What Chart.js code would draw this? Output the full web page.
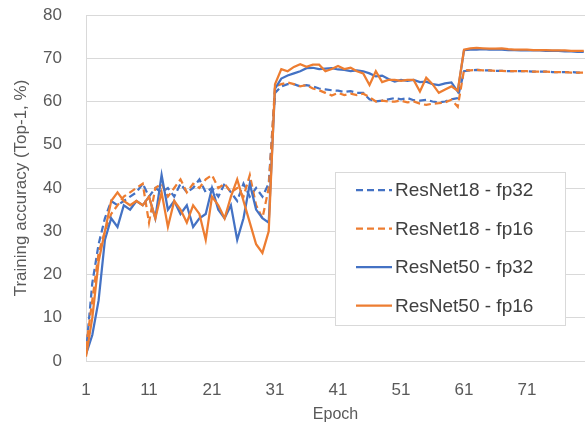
<!DOCTYPE html>
<html>
<head>
<meta charset="utf-8">
<script src="https://cdn.jsdelivr.net/npm/chart.js@4.4.0/dist/chart.umd.min.js"></script>
<style>
  html, body { margin: 0; padding: 0; background: #fff; }
  #wrap { width: 585px; height: 428px; }
</style>
</head>
<body>
<div id="wrap"><canvas id="accChart" width="585" height="428"></canvas></div>
<script>
// Epochs shown (1..80) and the labelled ticks
const epochs = [1,2,3,4,5,6,7,8,9,10,11,12,13,14,15,16,17,18,19,20,
    21,22,23,24,25,26,27,28,29,30,31,32,33,34,35,36,37,38,39,40,
    41,42,43,44,45,46,47,48,49,50,51,52,53,54,55,56,57,58,59,60,
    61,62,63,64,65,66,67,68,69,70,71,72,73,74,75,76,77,78,79,80];
const xTicks = [1, 11, 21, 31, 41, 51, 61, 71];
const yTicks = [0, 10, 20, 30, 40, 50, 60, 70, 80];

const resnet18Fp32 = [2,18,27,33,37,36,37,38,39,41,38,40,39,40,38,41,39,40,42,39,
    40,38,41,39,37,41,38,40,38,41,62,63.5,64,64,63.5,63.8,63.5,63,62.8,62.6,
    62.5,62.2,62.4,62,62,60.5,60,60.2,60.5,60.8,60.5,60.8,60.3,60.2,60.4,60,59.8,60,60.5,60.8,
    67,67.2,67.3,67.2,67.2,67.1,67.1,67,67,67,67,66.9,66.9,66.9,66.8,66.8,66.8,66.8,66.7,66.7];
const resnet18Fp16 = [3,14,25,30,34,36,38,39,40,41,32,40,41,38,40,42,39,41,40,42,
    43,40,41,39,40,38,43,36,33,40,63.5,64,64.4,64,63.5,63.8,63,62.6,62,61.4,
    62,61.5,61.8,61.5,61.8,61,60,60.2,60,60,60.2,59.8,60,59.5,59.2,59.5,59.6,59.8,60.4,58.8,
    67.3,67.2,67.3,67.2,67.2,67.1,67.1,67,67,67,67,66.9,66.9,66.9,66.8,66.8,66.8,66.7,66.7,66.7];
const resnet50Fp32 = [1.5,6,14,28,33,31,36,35,37,36,38,33,43,35,37,34,36,31,33,34,
    40,35,33,36,28,33,41,35,33,32,63,65.3,66,66.5,67,67.7,67.8,67.5,67.6,67.7,
    67.4,67.3,67,67.2,67,66.5,65.8,66,65.2,64.6,65,64.8,65,64.5,64.6,64,63.8,64.2,64.4,62.3,
    71.9,72,72,72.1,72,72,72,71.9,71.9,71.8,71.9,71.8,71.8,71.7,71.7,71.7,71.6,71.6,71.5,71.5];
const resnet50Fp16 = [1,10,23,30,37,39,37,36,37,36,38,33,39,31,37,35,32,36,34,28,
    38,36,33,38,42,37,32,27,25,30,64,67.5,67,68,68.6,68,68.5,68.5,67,67.5,
    68.2,67.5,67.8,67,66.5,63.8,67,64.5,65,65,64.8,65,65,62.3,65.5,64,62,62.8,63.5,62.5,
    72,72.3,72.4,72.3,72.2,72.2,72.3,72.1,72,72,72,71.9,71.9,71.9,71.8,71.8,71.8,71.7,71.7,71.7];

const BLUE = '#4472C4';
const ORANGE = '#ED7D31';
const FONT = "'Liberation Sans', Arial, sans-serif";

function toPoints(values) {
    return values.map((v, i) => ({x: epochs[i], y: v}));
}

// legend box drawn inside the plot, like the Excel original
const boxLegend = {
    id: 'boxLegend',
    afterDraw(chart) {
        const ctx = chart.ctx;
        const x0 = 335, y0 = 172, w = 230, h = 153;
        ctx.save();
        ctx.fillStyle = '#fff';
        ctx.fillRect(x0, y0, w, h);
        ctx.strokeStyle = '#D9D9D9';
        ctx.lineWidth = 1;
        ctx.strokeRect(x0 + 0.5, y0 + 0.5, w, h);
        ctx.font = '19px ' + FONT;
        ctx.textBaseline = 'middle';
        chart.data.datasets.forEach((ds, i) => {
            const y = 190 + i * 38.5;
            ctx.beginPath();
            ctx.strokeStyle = ds.borderColor;
            ctx.lineWidth = 2.25;
            ctx.setLineDash(ds.borderDash || []);
            ctx.moveTo(356, y);
            ctx.lineTo(392, y);
            ctx.stroke();
            ctx.setLineDash([]);
            ctx.fillStyle = '#404040';
            ctx.fillText(ds.label, 395, y + 1);
        });
        ctx.restore();
    }
};

new Chart(document.getElementById('accChart'), {
    type: 'line',
    data: {
        datasets: [
            {label: 'ResNet18 - fp32', data: toPoints(resnet18Fp32), borderColor: BLUE, borderDash: [7, 4], order: 3},
            {label: 'ResNet18 - fp16', data: toPoints(resnet18Fp16), borderColor: ORANGE, borderDash: [7, 4], order: 2},
            {label: 'ResNet50 - fp32', data: toPoints(resnet50Fp32), borderColor: BLUE, order: 1},
            {label: 'ResNet50 - fp16', data: toPoints(resnet50Fp16), borderColor: ORANGE, order: 0}
        ]
    },
    options: {
        responsive: false,
        animation: false,
        layout: {padding: {top: 15, right: 0, left: 0, bottom: 0}},
        elements: {
            point: {radius: 0},
            line: {borderWidth: 2.25, tension: 0, fill: false}
        },
        plugins: {
            legend: {display: false},
            tooltip: {enabled: false}
        },
        scales: {
            x: {
                type: 'linear',
                min: 1,
                max: 80.2,
                afterBuildTicks: s => { s.ticks = xTicks.map(v => ({value: v})); },
                afterFit: s => { s.height = 67; },
                grid: {display: false},
                border: {color: '#D9D9D9'},
                ticks: {padding: 11, color: '#595959', font: {family: FONT, size: 17}},
                title: {display: true, text: 'Epoch', color: '#595959',
                    font: {family: FONT, size: 16}, padding: {top: 0, bottom: 4}}
            },
            y: {
                min: 0,
                max: 80,
                afterBuildTicks: s => { s.ticks = yTicks.map(v => ({value: v})); },
                // tick padding would otherwise push the plot top down
                afterFit: s => { s.width = 86; s.paddingTop = 0; s.paddingBottom = 0; },
                grid: {color: '#D9D9D9', drawTicks: false},
                border: {color: '#D9D9D9'},
                ticks: {padding: 24, color: '#595959', font: {family: FONT, size: 17}},
                title: {display: true, text: 'Training accuracy (Top-1, %)', color: '#595959',
                    font: {family: FONT, size: 17}, padding: {top: 11, bottom: 0}}
            }
        }
    },
    plugins: [boxLegend]
});
</script>
</body>
</html>
